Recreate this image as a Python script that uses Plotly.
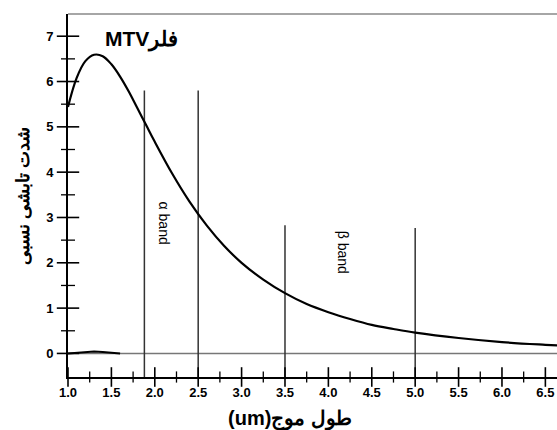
import plotly.graph_objects as go

# Wavelength (um) and relative radiant intensity of the MTV flare
wavelength = [1.0, 1.1, 1.2, 1.3, 1.4, 1.5, 1.6, 1.7, 1.8, 1.9, 2.0, 2.2, 2.4, 2.6, 2.8,
              3.0, 3.25, 3.5, 3.75, 4.0, 4.25, 4.5, 4.75, 5.0, 5.5, 6.0, 6.5, 6.7]
intensity = [5.44, 6.08, 6.45, 6.59, 6.56, 6.38, 6.11, 5.78, 5.41, 5.04, 4.67, 3.97, 3.35, 2.82, 2.37,
             2.00, 1.63, 1.33, 1.09, 0.91, 0.76, 0.63, 0.54, 0.46, 0.34, 0.25, 0.19, 0.17]

# small background curve near zero
bg_wavelength = [1.0, 1.1, 1.2, 1.3, 1.4, 1.5, 1.6]
bg_intensity = [0.0, 0.01, 0.03, 0.04, 0.03, 0.01, 0.0]

# band boundary lines
band_edges = [1.88, 2.5, 3.5, 5.0]
band_tops = [5.8, 5.8, 2.83, 2.77]
band_labels = ["α band", "β band"]
band_label_x = [2.11, 4.17]
band_label_y = [2.88, 2.24]

x_ticks = [1.0, 1.5, 2.0, 2.5, 3.0, 3.5, 4.0, 4.5, 5.0, 5.5, 6.0, 6.5]
x_minor = [1.25, 1.75, 2.25, 2.75, 3.25, 3.75, 4.25, 4.75, 5.25, 5.75, 6.25]
y_ticks = [0, 1, 2, 3, 4, 5, 6, 7]
y_minor = [0.5, 1.5, 2.5, 3.5, 4.5, 5.5, 6.5]

X_RANGE = [1.0, 6.634]
Y_RANGE = [-0.52, 7.49]

fig = go.Figure()

# zero line
fig.add_trace(go.Scatter(x=[X_RANGE[0], X_RANGE[1]], y=[0, 0], mode="lines",
                         line=dict(color="#777777", width=1.5), hoverinfo="skip"))
fig.add_trace(go.Scatter(x=bg_wavelength, y=bg_intensity, mode="lines",
                         line=dict(color="black", width=2), hoverinfo="skip"))

# vertical band lines
vx, vy = [], []
for e, t in zip(band_edges, band_tops):
    vx += [e, e, None]
    vy += [Y_RANGE[0], t, None]
fig.add_trace(go.Scatter(x=vx, y=vy, mode="lines",
                         line=dict(color="#333333", width=1.5), hoverinfo="skip"))

# main curve
fig.add_trace(go.Scatter(x=wavelength, y=intensity, mode="lines", line_shape="spline",
                         line=dict(color="black", width=2.2)))

# crossing tick marks drawn as line markers sitting on the axes
def tick_marks(xs, ys, symbol, size, width):
    return go.Scatter(x=xs, y=ys, mode="markers", cliponaxis=False, hoverinfo="skip",
                      marker=dict(symbol=symbol, size=size, color="black",
                                  line=dict(color="black", width=width)))

fig.add_trace(tick_marks(x_ticks, [Y_RANGE[0]] * len(x_ticks), "line-ns", 14, 1.6))
fig.add_trace(tick_marks(x_minor, [Y_RANGE[0]] * len(x_minor), "line-ns", 8, 1.3))
fig.add_trace(tick_marks([X_RANGE[0]] * len(y_ticks), y_ticks, "line-ew", 16, 1.6))
fig.add_trace(tick_marks([X_RANGE[0]] * len(y_minor), y_minor, "line-ew", 10, 1.3))

tickfont = dict(family="Liberation Sans, Arial", size=13, color="black", weight="bold")
clear = "rgba(0,0,0,0)"

fig.update_layout(
    width=557, height=430,
    margin=dict(l=68, r=0, t=14, b=53),
    paper_bgcolor="white", plot_bgcolor="white",
    showlegend=False,
    xaxis=dict(range=X_RANGE, tickvals=x_ticks, ticktext=[f"{v:.1f}" for v in x_ticks],
               ticks="outside", ticklen=2, tickcolor=clear,
               showline=True, linecolor="black", linewidth=2, showgrid=False, zeroline=False,
               tickfont=tickfont),
    yaxis=dict(range=Y_RANGE, tickvals=y_ticks,
               ticks="outside", ticklen=10, tickcolor=clear,
               showline=True, linecolor="black", linewidth=2, showgrid=False, zeroline=False,
               tickfont=tickfont,
               title=dict(text="شدت تابشی نسبی", font=dict(family="Liberation Sans, Arial", size=18, color="black", weight="bold"),
                          standoff=12)),
    shapes=[dict(type="line", xref="paper", yref="paper", x0=0, x1=1, y0=1, y1=1,
                 line=dict(color="#888888", width=1.5))],
)

for txt, lx, ly in zip(band_labels, band_label_x, band_label_y):
    fig.add_annotation(x=lx, y=ly, text=txt, showarrow=False, textangle=90,
                       font=dict(family="Liberation Sans, Arial", size=14, color="black"))

fig.add_annotation(x=1.40, y=6.92, xanchor="left", text="MTVفلر", showarrow=False,
                   font=dict(family="Liberation Sans, Arial", size=21, color="black", weight="bold"))

# x-axis title (sits slightly left of centre in the original)
fig.add_annotation(xref="paper", yref="paper", x=0.454, y=-0.116, yanchor="middle",
                   text="(um)طول موج", showarrow=False,
                   font=dict(family="Liberation Sans, Arial", size=20, color="black", weight="bold"))

fig.write_html("out.html")
